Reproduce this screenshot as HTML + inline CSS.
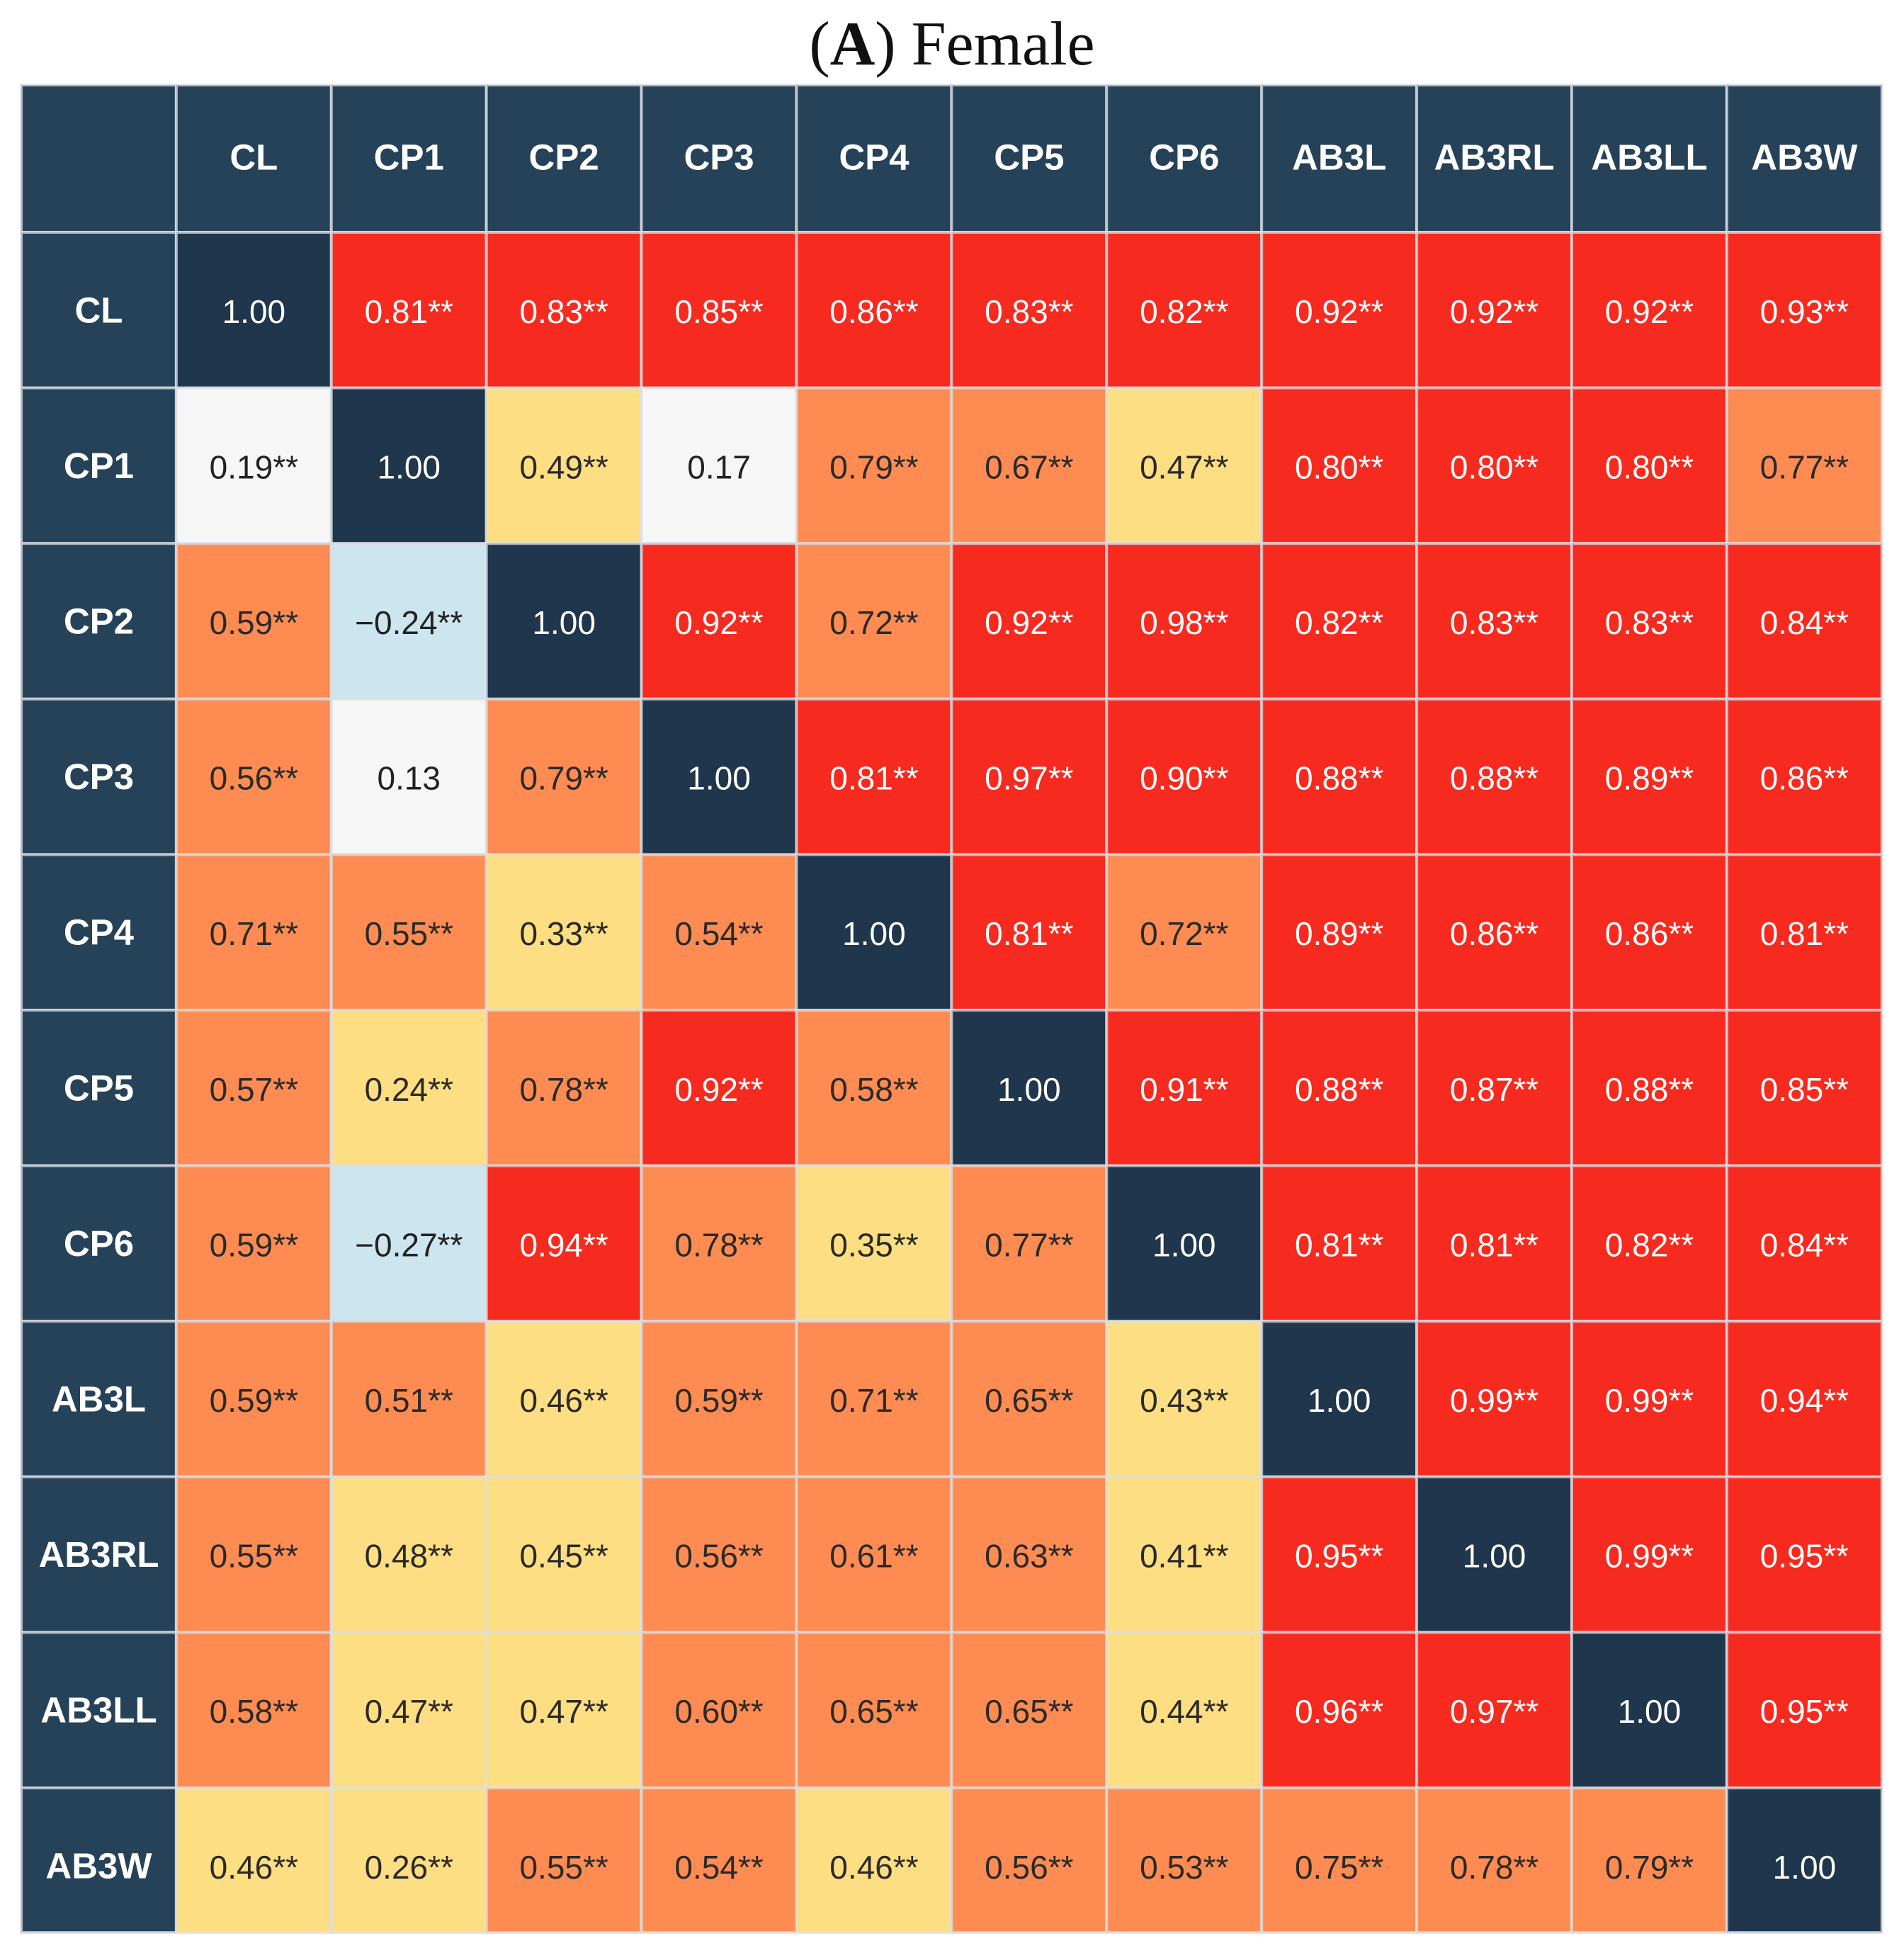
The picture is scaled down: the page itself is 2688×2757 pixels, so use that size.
<!DOCTYPE html>
<html><head><meta charset="utf-8">
<style>
html,body{margin:0;padding:0;background:#fff;}
body{width:2688px;height:2757px;overflow:hidden;position:relative;}
#title{position:absolute;left:0;top:12px;width:2688px;text-align:center;font-family:"Liberation Serif",serif;font-size:88px;color:#111;}
svg{position:absolute;left:0;top:0;}
</style></head>
<body>
<div id="title">(<b>A</b>) Female</div>
<svg id="chart" width="2688" height="2757"></svg>
<script>
const labels = ["CL","CP1","CP2","CP3","CP4","CP5","CP6","AB3L","AB3RL","AB3LL","AB3W"];
const rowCL    = [1.00,0.81,0.83,0.85,0.86,0.83,0.82,0.92,0.92,0.92,0.93];
const rowCP1   = [0.19,1.00,0.49,0.17,0.79,0.67,0.47,0.80,0.80,0.80,0.77];
const rowCP2   = [0.59,-0.24,1.00,0.92,0.72,0.92,0.98,0.82,0.83,0.83,0.84];
const rowCP3   = [0.56,0.13,0.79,1.00,0.81,0.97,0.90,0.88,0.88,0.89,0.86];
const rowCP4   = [0.71,0.55,0.33,0.54,1.00,0.81,0.72,0.89,0.86,0.86,0.81];
const rowCP5   = [0.57,0.24,0.78,0.92,0.58,1.00,0.91,0.88,0.87,0.88,0.85];
const rowCP6   = [0.59,-0.27,0.94,0.78,0.35,0.77,1.00,0.81,0.81,0.82,0.84];
const rowAB3L  = [0.59,0.51,0.46,0.59,0.71,0.65,0.43,1.00,0.99,0.99,0.94];
const rowAB3RL = [0.55,0.48,0.45,0.56,0.61,0.63,0.41,0.95,1.00,0.99,0.95];
const rowAB3LL = [0.58,0.47,0.47,0.60,0.65,0.65,0.44,0.96,0.97,1.00,0.95];
const rowAB3W  = [0.46,0.26,0.55,0.54,0.46,0.56,0.53,0.75,0.78,0.79,1.00];
const matrix = [rowCL,rowCP1,rowCP2,rowCP3,rowCP4,rowCP5,rowCP6,rowAB3L,rowAB3RL,rowAB3LL,rowAB3W];
const nonSignificant = [[1,3],[3,1]];

const svg = document.getElementById('chart');
const NS = 'http://www.w3.org/2000/svg';
const X0 = 30, Y0 = 120, CW = 218.9, HH = 208, RH = 219.6, YMAX = 2728;
function colX(i){ return X0 + i*CW; }
function rowY(j){ return j===0 ? Y0 : Y0 + HH + (j-1)*RH; }
function rowH(j){ if (j===0) return HH; return Math.min(RH, YMAX - rowY(j)); }
function colorFor(v, diag){
  if (diag) return ['#1f364c','#ffffff'];
  if (v < 0) return ['#cce5ef','#222'];
  if (v < 0.2) return ['#f6f6f6','#222'];
  if (v < 0.5) return ['#fede82','#2a2a2a'];
  if (v < 0.8) return ['#fe8c52','#2a2a2a'];
  return ['#f72a1f','#ffffff'];
}
function rect(x,y,w,h,fill,name){
  const r = document.createElementNS(NS,'rect');
  r.setAttribute('x',x); r.setAttribute('y',y); r.setAttribute('width',w); r.setAttribute('height',h);
  r.setAttribute('fill',fill); r.setAttribute('stroke','#d9dfe4'); r.setAttribute('stroke-opacity','0.75'); r.setAttribute('stroke-width','4');
  
  
  svg.appendChild(r);
}
function text(x,y,str,fill,size,bold,name){
  const t = document.createElementNS(NS,'text');
  t.setAttribute('x',x); t.setAttribute('y',y); t.setAttribute('fill',fill);
  t.setAttribute('font-family','"Liberation Sans", Arial, sans-serif');
  t.setAttribute('font-size',size); t.setAttribute('text-anchor','middle'); t.setAttribute('dominant-baseline','central');
  if (bold) t.setAttribute('font-weight','bold');
  t.textContent = str;
  
  
  svg.appendChild(t);
}
rect(colX(0),rowY(0),CW,HH,'#264258','header-corner');
labels.forEach((lab,i)=>{
  rect(colX(i+1),rowY(0),CW,HH,'#264258','column-header-'+lab.toLowerCase());
  text(colX(i+1)+CW/2,rowY(0)+HH/2-2,lab,'#ffffff',51,true,'column-label-'+lab.toLowerCase());
  rect(colX(0),rowY(i+1),CW,rowH(i+1),'#264258','row-header-'+lab.toLowerCase());
  text(colX(0)+CW/2,rowY(i+1)+RH/2,lab,'#ffffff',51,true,'row-label-'+lab.toLowerCase());
});
matrix.forEach((row,r)=>{
  row.forEach((v,c)=>{
    const diag = r===c;
    const [bg,fg] = colorFor(v,diag);
    const x = colX(c+1), y = rowY(r+1);
    rect(x,y,CW,rowH(r+1),bg,'cell-'+labels[r].toLowerCase()+'-'+labels[c].toLowerCase());
    const ns = nonSignificant.some(p=>p[0]===r&&p[1]===c);
    let s = (v<0?'\u2212':'') + Math.abs(v).toFixed(2) + (diag||ns ? '' : '**');
    text(x+CW/2,y+RH/2+2,s,fg,46,false,'value-'+labels[r].toLowerCase()+'-'+labels[c].toLowerCase());
  });
});
</script>
</body></html>
